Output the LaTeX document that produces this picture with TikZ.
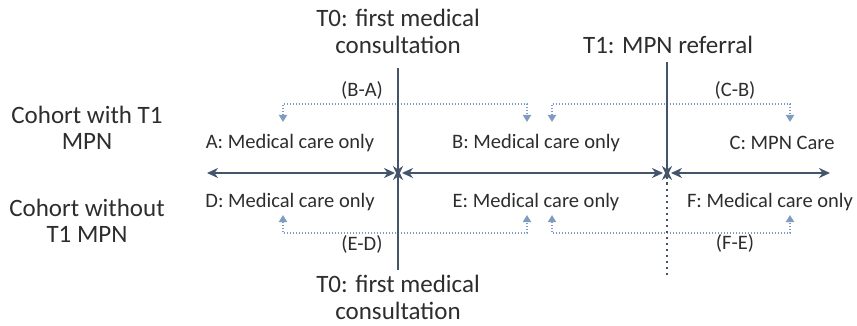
\documentclass[tikz,border=0pt]{standalone}
\usepackage{fontspec}
\setmainfont{Carlito}
\usetikzlibrary{arrows.meta}
\definecolor{axiscol}{RGB}{68,84,106}
\definecolor{linkcol}{RGB}{125,155,195}
\definecolor{txtcol}{RGB}{45,45,45}
\tikzset{
  lbl/.style={font=\fontsize{20.5}{28}\selectfont, text=txtcol, inner sep=0pt, align=center},
  head/.style={font=\fontsize{25}{27}\selectfont, text=txtcol, inner sep=0pt, align=center},
  cohort/.style={font=\fontsize{25}{26}\selectfont, text=txtcol, inner sep=0pt, align=center},
  axis/.style={draw=axiscol, line width=2.8pt, -{Stealth[length=11pt,width=10pt]}},
  axis2/.style={draw=axiscol, line width=2.8pt, {Stealth[length=11pt,width=10pt]}-{Stealth[length=11pt,width=10pt]}},
  link/.style={draw=linkcol, line width=2pt, dash pattern=on 1.5pt off 1.5pt, {Triangle[length=7pt,width=8pt]}-{Triangle[length=7pt,width=8pt]}},
}
\begin{document}
\begin{tikzpicture}[x=1pt,y=-1pt]
\useasboundingbox (0,0) rectangle (857,326);

% timeline anchors
\coordinate (c0) at (398,173);
\coordinate (c1) at (667,173);
\coordinate (l0) at (207,173);
\coordinate (r0) at (830,173);

% headings
\node[head] (t0top) at (398,31) {T0: first medical\\consultation};
\node[head] (t1top) at (668,45) {T1: MPN referral};
\node[head] (t0bot) at (398,297) {T0: first medical\\consultation};
\node[cohort] (coh1) at (87,128) {Cohort with T1\\MPN};
\node[cohort] (coh2) at (87,221) {Cohort without\\T1 MPN};

% period labels
\node[lbl] (A) at (290,143) {A: Medical care only};
\node[lbl] (B) at (536,143) {B: Medical care only};
\node[lbl] (C) at (782,143) {C: MPN Care};
\node[lbl] (D) at (290,202) {D: Medical care only};
\node[lbl] (E) at (536,202) {E: Medical care only};
\node[lbl] (F) at (770,202) {F: Medical care only};

% difference labels
\node[lbl] (ba) at (362,90) {(B-A)};
\node[lbl] (cb) at (735,90) {(C-B)};
\node[lbl] (ed) at (362,244) {(E-D)};
\node[lbl] (fe) at (735,243) {(F-E)};

% connector end points
\coordinate (aT) at (283,122);
\coordinate (bT) at (527,122);
\coordinate (bT2) at (552,122);
\coordinate (cT) at (790,122);
\coordinate (dB) at (283,215);
\coordinate (eB) at (527,215);
\coordinate (eB2) at (552,215);
\coordinate (fB) at (790,215);

% comparison links
\draw[link] (aT) -- ++(0,-18) -| (bT);
\draw[link] (bT2) -- ++(0,-18) -| (cT);
\draw[link] (dB) -- ++(0,18) -| (eB);
\draw[link] (eB2) -- ++(0,18) -| (fB);

% horizontal time axis
\draw[axis2] (l0) -- ([xshift=-3pt]c0);
\draw[axis2] ([xshift=4pt]c0) -- ([xshift=-4pt]c1);
\draw[axis2] ([xshift=4pt]c1) -- (r0);

% vertical markers
\draw[axis] (398,68) -- ([yshift=-4pt]c0);
\draw[axis] (398,270) -- ([yshift=4pt]c0);
\draw[axis] (667,62) -- ([yshift=-4pt]c1);
\draw[axis, line width=1.8pt, dash pattern=on 2.5pt off 3.5pt] (667,275) -- ([yshift=4pt]c1);
\end{tikzpicture}
\end{document}
